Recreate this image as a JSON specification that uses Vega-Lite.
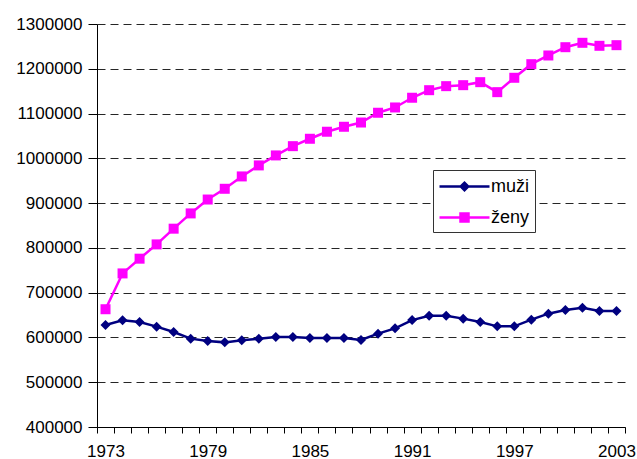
{
  "$schema": "https://vega.github.io/schema/vega-lite/v6.json",
  "width": 528,
  "height": 403,
  "autosize": "none",
  "padding": {"left": 97, "top": 24, "right": 12, "bottom": 32},
  "background": "white",
  "config": {"view": {"stroke": null}, "font": "Liberation Sans"},
  "data": {"values": [
    {"year": 1973, "s": "muži", "v": 627700}, {"year": 1974, "s": "muži", "v": 638200}, {"year": 1975, "s": "muži", "v": 634400},
    {"year": 1976, "s": "muži", "v": 624100}, {"year": 1977, "s": "muži", "v": 612100}, {"year": 1978, "s": "muži", "v": 597300},
    {"year": 1979, "s": "muži", "v": 592000}, {"year": 1980, "s": "muži", "v": 589000}, {"year": 1981, "s": "muži", "v": 593500},
    {"year": 1982, "s": "muži", "v": 597300}, {"year": 1983, "s": "muži", "v": 600900}, {"year": 1984, "s": "muži", "v": 600900},
    {"year": 1985, "s": "muži", "v": 598700}, {"year": 1986, "s": "muži", "v": 598700}, {"year": 1987, "s": "muži", "v": 598700},
    {"year": 1988, "s": "muži", "v": 594200}, {"year": 1989, "s": "muži", "v": 608500}, {"year": 1990, "s": "muži", "v": 620300},
    {"year": 1991, "s": "muži", "v": 638800}, {"year": 1992, "s": "muži", "v": 648600}, {"year": 1993, "s": "muži", "v": 648600},
    {"year": 1994, "s": "muži", "v": 642000}, {"year": 1995, "s": "muži", "v": 634400}, {"year": 1996, "s": "muži", "v": 624800},
    {"year": 1997, "s": "muži", "v": 624800}, {"year": 1998, "s": "muži", "v": 639700}, {"year": 1999, "s": "muži", "v": 653100},
    {"year": 2000, "s": "muži", "v": 661200}, {"year": 2001, "s": "muži", "v": 666500}, {"year": 2002, "s": "muži", "v": 658900},
    {"year": 2003, "s": "muži", "v": 658900},
    {"year": 1973, "s": "ženy", "v": 663000}, {"year": 1974, "s": "ženy", "v": 743000}, {"year": 1975, "s": "ženy", "v": 775900},
    {"year": 1976, "s": "ženy", "v": 807800}, {"year": 1977, "s": "ženy", "v": 842900}, {"year": 1978, "s": "ženy", "v": 877000},
    {"year": 1979, "s": "ženy", "v": 908000}, {"year": 1980, "s": "ženy", "v": 932000}, {"year": 1981, "s": "ženy", "v": 959600},
    {"year": 1982, "s": "ženy", "v": 984200}, {"year": 1983, "s": "ženy", "v": 1006500}, {"year": 1984, "s": "ženy", "v": 1027200},
    {"year": 1985, "s": "ženy", "v": 1043700}, {"year": 1986, "s": "ženy", "v": 1059400}, {"year": 1987, "s": "ženy", "v": 1070500},
    {"year": 1988, "s": "ženy", "v": 1080000}, {"year": 1989, "s": "ženy", "v": 1101800}, {"year": 1990, "s": "ženy", "v": 1113600},
    {"year": 1991, "s": "ženy", "v": 1135300}, {"year": 1992, "s": "ženy", "v": 1152200}, {"year": 1993, "s": "ženy", "v": 1161200},
    {"year": 1994, "s": "ženy", "v": 1163400}, {"year": 1995, "s": "ženy", "v": 1170100}, {"year": 1996, "s": "ženy", "v": 1147800},
    {"year": 1997, "s": "ženy", "v": 1179900}, {"year": 1998, "s": "ženy", "v": 1210300}, {"year": 1999, "s": "ženy", "v": 1229700},
    {"year": 2000, "s": "ženy", "v": 1248200}, {"year": 2001, "s": "ženy", "v": 1258000}, {"year": 2002, "s": "ženy", "v": 1251300},
    {"year": 2003, "s": "ženy", "v": 1252700}
  ]},
  "encoding": {
    "x": {
      "field": "year", "type": "ordinal", "bandPosition": 0.5,
      "scale": {"type": "band", "paddingInner": 0, "paddingOuter": 0},
      "axis": {
        "title": null, "labelAngle": 0, "tickBand": "extent", "grid": false,
        "labelExpr": "(datum.value - 1973) % 6 == 0 ? datum.label : ''",
        "labelFontSize": 17, "labelColor": "black", "labelFont": "Liberation Sans",
        "tickSize": 6, "tickColor": "black", "domainColor": "black", "labelPadding": 10,
        "labelOverlap": false
      }
    },
    "y": {
      "field": "v", "type": "quantitative",
      "scale": {"domain": [400000, 1300000], "nice": false, "zero": false},
      "axis": {
        "title": null,
        "values": [400000, 500000, 600000, 700000, 800000, 900000, 1000000, 1100000, 1200000, 1300000],
        "format": "d", "labelFontSize": 17, "labelColor": "black", "labelFont": "Liberation Sans",
        "tickSize": 9, "tickColor": "black", "domainColor": "black", "labelPadding": 6,
        "grid": true, "gridColor": "black", "gridDash": [8, 5], "gridOpacity": 0.85
      }
    }
  },
  "layer": [
    {
      "transform": [{"filter": "false"}],
      "mark": {"type": "point", "filled": false, "opacity": 1, "strokeWidth": 2.5},
      "encoding": {
        "color": {
          "field": "s", "type": "nominal",
          "scale": {"domain": ["muži", "ženy"], "range": ["#000080", "#FF00FF"]},
          "legend": {
            "title": null, "orient": "none", "legendX": 336, "legendY": 146,
            "fillColor": "white", "strokeColor": "#333", "padding": 5,
            "labelFontSize": 18, "labelFont": "Liberation Sans", "labelColor": "black",
            "symbolSize": 400, "symbolStrokeWidth": 2.5, "symbolOpacity": 1, "rowPadding": 10, "labelOffset": 30
          }
        },
        "shape": {
          "field": "s", "type": "nominal",
          "scale": {"domain": ["muži", "ženy"], "range": [
            "M-1,0L4,0M1.125,0L1.5,-0.375L1.875,0L1.5,0.375ZM1.25,0L1.5,-0.25L1.75,0L1.5,0.25ZM1.375,0L1.5,-0.125L1.625,0L1.5,0.125Z",
            "M-1,0L4,0M1.1,-0.4L1.9,-0.4L1.9,0.4L1.1,0.4ZM1.25,-0.25L1.75,-0.25L1.75,0.25L1.25,0.25ZM1.4,-0.1L1.6,-0.1L1.6,0.1L1.4,0.1Z"
          ]},
          "legend": {
            "title": null, "orient": "none", "legendX": 336, "legendY": 146,
            "fillColor": "white", "strokeColor": "#333", "padding": 5,
            "labelFontSize": 18, "labelFont": "Liberation Sans", "labelColor": "black",
            "symbolSize": 400, "symbolStrokeWidth": 2.5, "symbolOpacity": 1, "rowPadding": 10, "labelOffset": 30
          }
        }
      }
    },
    {"transform": [{"filter": "datum.s === 'muži'"}], "mark": {"type": "line", "strokeWidth": 2.5, "color": "#000080"}},
    {"transform": [{"filter": "datum.s === 'ženy'"}], "mark": {"type": "line", "strokeWidth": 2.5, "color": "#FF00FF"}},
    {"transform": [{"filter": "datum.s === 'muži'"}], "mark": {"type": "point", "shape": "diamond", "filled": true, "opacity": 1, "size": 100, "color": "#000080"}},
    {"transform": [{"filter": "datum.s === 'ženy'"}], "mark": {"type": "point", "shape": "square", "filled": true, "opacity": 1, "size": 100, "color": "#FF00FF"}}
  ]
}
